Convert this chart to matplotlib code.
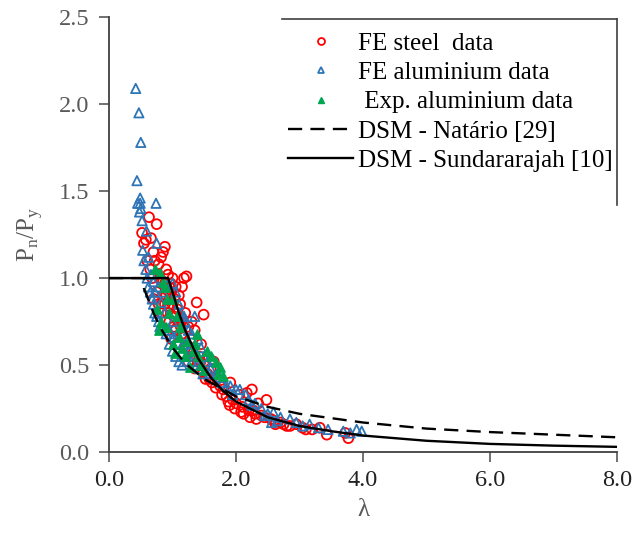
import matplotlib
matplotlib.use("Agg")
import matplotlib.pyplot as plt
from matplotlib.lines import Line2D

plt.rcParams['font.family'] = ['Liberation Serif', 'DejaVu Serif']
plt.rcParams['mathtext.fontset'] = 'custom'
plt.rcParams['mathtext.rm'] = 'Liberation Serif'

GRAY = '#595959'

# FE steel data (lambda, Pn/Py)
steel_x = [0.52, 0.55, 0.58, 0.63, 0.66, 0.75, 0.70, 0.72, 0.78, 0.85, 0.88, 0.82, 0.90, 0.93,
           0.60, 0.65, 0.68, 0.80, 0.85, 0.95, 0.98, 0.90, 0.88, 0.92, 0.75, 0.70, 0.78, 0.82,
           0.95, 1.00, 1.02, 1.05, 0.98, 1.08, 1.10, 1.15, 1.18, 1.22, 1.12, 1.20, 1.25, 1.15,
           1.20, 1.28, 1.30, 1.35, 1.38, 1.49, 1.45, 1.40, 1.42, 1.50, 1.55, 1.60, 1.62, 1.70,
           1.75, 1.80, 1.85, 1.91, 1.95, 2.00, 2.05, 2.10, 2.17, 2.20, 2.25, 2.27, 2.30, 2.35,
           2.40, 2.48, 2.55, 2.60, 2.70, 2.75, 2.85, 2.95, 3.05, 3.20, 3.32, 3.43, 3.72, 3.77,
           1.65, 1.05, 1.00, 0.95, 1.10, 1.30, 1.25, 1.48, 1.58, 1.35, 0.97, 1.03, 0.93, 1.08,
           1.13, 1.90, 2.12, 2.22, 2.32, 2.62, 0.88, 0.92, 0.96, 1.02, 1.06, 1.14, 1.18, 1.26,
           1.32, 1.44, 1.52, 1.68, 1.78, 1.88, 1.98, 2.08, 2.45, 2.80, 3.10, 0.85]
steel_y = [1.26, 1.20, 1.22, 1.35, 1.23, 1.31, 1.15, 1.10, 1.08, 1.15, 1.18, 1.12, 1.05, 1.02,
           1.10, 1.05, 1.00, 1.00, 0.98, 0.95, 0.92, 0.90, 0.85, 0.80, 0.92, 0.88, 0.85, 0.80,
           0.75, 0.85, 0.78, 0.70, 0.65, 0.62, 0.90, 0.95, 1.00, 1.01, 0.85, 0.80, 0.72, 0.68,
           0.60, 0.65, 0.58, 0.70, 0.86, 0.79, 0.62, 0.52, 0.55, 0.50, 0.45, 0.48, 0.40, 0.42,
           0.38, 0.36, 0.32, 0.40, 0.30, 0.28, 0.33, 0.26, 0.34, 0.24, 0.36, 0.24, 0.22, 0.28,
           0.21, 0.30, 0.19, 0.18, 0.17, 0.16, 0.15, 0.16, 0.14, 0.13, 0.14, 0.10, 0.11, 0.08,
           0.52, 0.95, 1.00, 0.88, 0.75, 0.75, 0.52, 0.46, 0.42, 0.48, 0.97, 0.88, 0.84, 0.82,
           0.72, 0.27, 0.22, 0.20, 0.19, 0.16, 0.97, 0.93, 0.83, 0.72, 0.80, 0.77, 0.66, 0.60,
           0.55, 0.52, 0.42, 0.37, 0.33, 0.29, 0.25, 0.23, 0.20, 0.15, 0.13, 0.90]

# FE aluminium data
alu_x = [0.42, 0.47, 0.50, 0.44, 0.49, 0.49, 0.45, 0.74, 0.52, 0.59, 0.53, 0.75, 0.50, 0.48,
         0.55, 0.58, 0.60, 0.62, 0.65, 0.68, 0.70, 0.72, 0.75, 0.78, 0.80, 0.66, 0.70, 0.78,
         0.85, 0.92, 1.00, 1.05, 1.10, 1.12, 1.18, 1.20, 1.25, 1.35, 1.30, 1.40, 1.45, 0.85,
         0.90, 0.95, 1.00, 1.05, 1.10, 1.15, 1.22, 1.28, 1.35, 1.50, 1.55, 1.64, 1.60, 1.70,
         1.78, 1.85, 1.91, 2.00, 2.06, 2.15, 2.20, 2.30, 2.40, 2.50, 2.56, 2.59, 2.70, 2.85,
         2.95, 3.16, 3.30, 3.69, 3.80, 3.98, 3.90, 1.00, 0.88, 1.20, 1.38, 1.48, 0.62, 0.72,
         0.82, 0.95, 1.02, 1.08, 1.16, 1.30, 1.42, 1.58, 1.75, 1.95, 2.25, 2.45, 2.65, 3.05,
         3.45]
alu_y = [2.09, 1.95, 1.78, 1.56, 1.46, 1.43, 1.43, 1.43, 1.33, 1.27, 1.16, 1.20, 1.40, 1.38,
         1.10, 1.05, 1.00, 0.95, 0.92, 0.88, 0.85, 0.80, 0.78, 0.75, 0.72, 1.02, 0.98, 0.95,
         0.92, 0.96, 0.97, 0.92, 0.85, 0.80, 0.78, 0.75, 0.70, 0.78, 0.68, 0.65, 0.60, 0.72,
         0.68, 0.62, 0.58, 0.55, 0.52, 0.50, 0.55, 0.60, 0.58, 0.55, 0.52, 0.53, 0.48, 0.45,
         0.40, 0.38, 0.38, 0.36, 0.36, 0.33, 0.30, 0.28, 0.25, 0.22, 0.17, 0.23, 0.20, 0.19,
         0.17, 0.16, 0.14, 0.12, 0.11, 0.12, 0.13, 0.75, 0.80, 0.62, 0.50, 0.45, 1.12, 0.92,
         0.86, 0.70, 0.66, 0.68, 0.62, 0.52, 0.48, 0.45, 0.43, 0.33, 0.27, 0.21, 0.18, 0.15,
         0.13]

# Exp. aluminium data
exp_x = [0.72, 0.80, 0.85, 0.88, 0.78, 0.82, 0.90, 0.95, 1.00, 1.04, 1.07, 1.10, 1.15, 1.20,
         1.28, 1.25, 1.32, 1.40, 1.45, 1.50, 1.55, 1.60, 1.68, 1.75, 1.72, 1.80, 0.92, 1.00,
         1.12, 1.35, 0.75, 1.38]
exp_y = [1.05, 1.03, 0.98, 0.95, 0.70, 0.75, 0.72, 0.80, 0.62, 0.57, 0.78, 0.66, 0.60, 0.55,
         0.49, 0.64, 0.58, 0.55, 0.50, 0.47, 0.58, 0.55, 0.52, 0.49, 0.45, 0.44, 0.88, 0.88,
         0.72, 0.62, 0.82, 0.68]

# DSM curves
natario_x = [0.0, 0.55, 0.55, 0.7, 0.8, 1.0, 1.2, 1.5, 2.0, 2.5, 3.0, 4.0, 5.0, 6.0, 7.0, 8.0]
natario_y = [1.0, 1.0, 0.94, 0.80, 0.72, 0.60, 0.51, 0.42, 0.32, 0.26, 0.22, 0.17, 0.135, 0.115, 0.10, 0.085]
sund_x = [0.0, 0.93, 1.0, 1.1, 1.2, 1.4, 1.6, 1.8, 2.0, 2.5, 3.0, 3.5, 4.0, 5.0, 6.0, 7.0, 8.0]
sund_y = [1.0, 1.0, 0.92, 0.80, 0.70, 0.54, 0.43, 0.35, 0.29, 0.20, 0.15, 0.12, 0.095, 0.065, 0.047, 0.037, 0.03]

fig = plt.figure(figsize=(6.34, 5.35), dpi=100)
ax = fig.add_axes([0.172, 0.155, 0.801, 0.813])

ax.scatter(steel_x, steel_y, s=50, facecolors='none', edgecolors='#FF0000', linewidths=1.3, zorder=3)
ax.scatter(alu_x, alu_y, s=45, marker='^', facecolors='none', edgecolors='#2E75B6', linewidths=1.3, zorder=3)
ax.scatter(exp_x, exp_y, s=45, marker='^', color='#00A651', zorder=3)
ax.plot(natario_x, natario_y, color='black', lw=1.7, dashes=(6, 3.5), zorder=4)
ax.plot(sund_x, sund_y, color='black', lw=1.7, zorder=4)

ax.set_xlim(0, 8)
ax.set_ylim(0, 2.5)
ax.set_xticks([0, 2, 4, 6, 8])
ax.set_xticklabels(['0.0', '2.0', '4.0', '6.0', '8.0'])
ax.set_yticks([0, 0.5, 1.0, 1.5, 2.0, 2.5])
ax.set_yticklabels(['0.0', '0.5', '1.0', '1.5', '2.0', '2.5'])
ax.tick_params(labelsize=17.5, colors=GRAY, length=7, width=1.2, pad=7)
ax.tick_params(axis='x', labelcolor='#222222', pad=6)
for s in ['top', 'right']:
    ax.spines[s].set_visible(False)
for s in ['left', 'bottom']:
    ax.spines[s].set_color('#404040')
    ax.spines[s].set_linewidth(1.3)

ax.set_xlabel('λ', fontsize=18, color=GRAY, labelpad=6)
ax.set_ylabel(r'P$_\mathrm{n}$/P$_\mathrm{y}$', fontsize=18, color=GRAY, labelpad=10)

handles = [
    Line2D([], [], ls='none', marker='o', mfc='none', mec='#FF0000', ms=5, mew=1.3),
    Line2D([], [], ls='none', marker='^', mfc='none', mec='#2E75B6', ms=5, mew=1.3),
    Line2D([], [], ls='none', marker='^', color='#00A651', ms=5),
    Line2D([], [], color='black', lw=1.7, dashes=(6, 3.5)),
    Line2D([], [], color='black', lw=1.7),
]
labels = ['FE steel  data', 'FE aluminium data', ' Exp. aluminium data',
          'DSM - Natário [29]', 'DSM - Sundararajah [10]']
ax.legend(handles, labels, loc='upper right', bbox_to_anchor=(1.012, 0.988), frameon=False,
          fontsize=18, handlelength=2.6, handletextpad=0.2, labelspacing=0.27, borderpad=0.3,
          borderaxespad=0.1)

# partial border lines around the legend area
fig.add_artist(Line2D([282 / 634, 617 / 634], [1 - 19 / 535, 1 - 19 / 535], color='#404040', lw=1.2))
fig.add_artist(Line2D([617 / 634, 617 / 634], [1 - 19 / 535, 1 - 205 / 535], color='#404040', lw=1.2))

fig.savefig('out.png', dpi=100)
